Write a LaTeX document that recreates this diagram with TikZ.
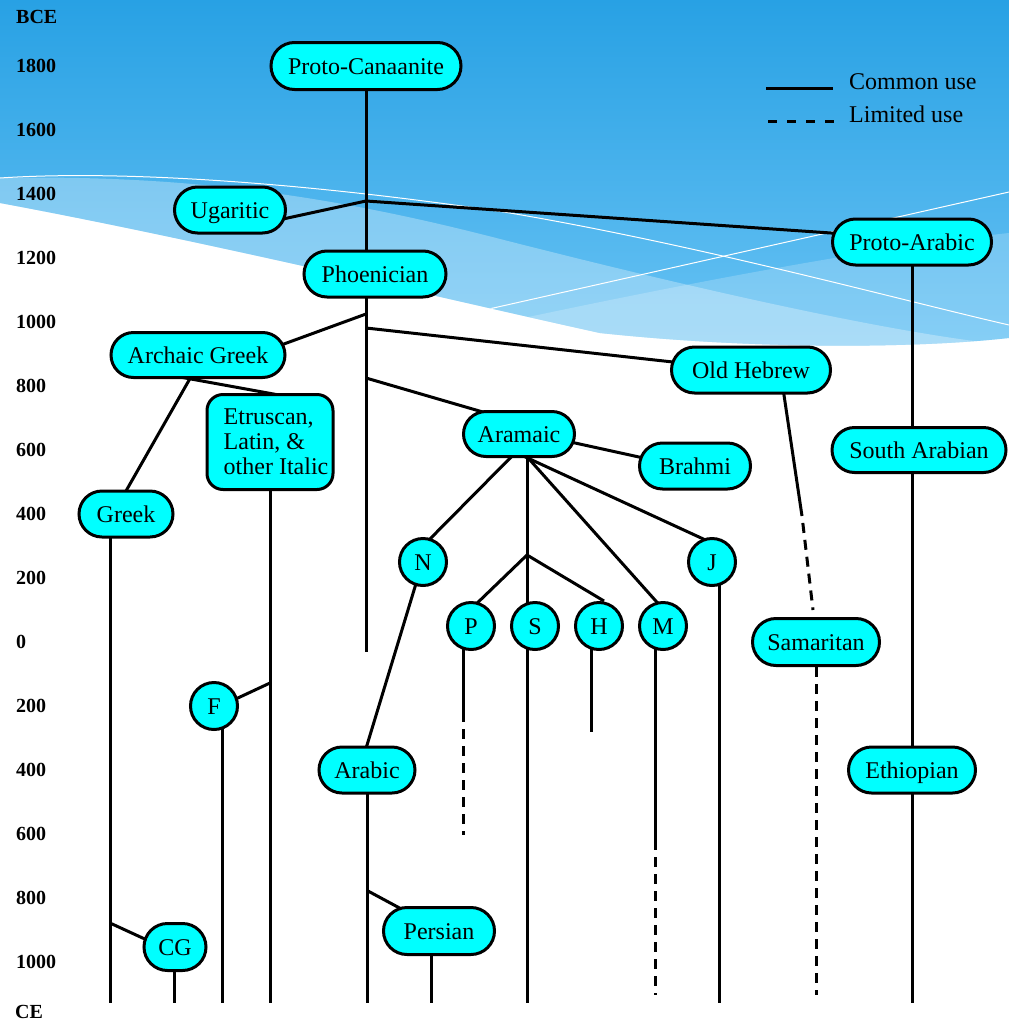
\documentclass[tikz,border=0pt]{standalone}
\usepackage{fontspec}
\setmainfont{Liberation Serif}
\usetikzlibrary{shapes.misc,calc}
\pgfdeclarelayer{bgimg}
\pgfdeclarelayer{bgline}
\pgfsetlayers{bgimg,bgline,main}
\definecolor{skytop}{RGB}{40,161,228}
\definecolor{skybot}{RGB}{105,195,244}
\definecolor{boxfill}{RGB}{0,255,255}
\tikzset{
  script/.style={rounded rectangle, draw=black, line width=3pt, fill=boxfill, inner sep=0pt, text height=17pt, text depth=0pt, font=\fontsize{24}{25}\selectfont},
  circ/.style={script, minimum width=47pt, minimum height=47pt},
  link/.style={line width=3pt, black},
  limited/.style={link, dash pattern=on 10pt off 7pt},
  yearlabel/.style={anchor=west, inner sep=0pt, font=\fontsize{20}{20}\selectfont\bfseries},
  legendtext/.style={anchor=west, inner sep=0pt, font=\fontsize{24}{25}\selectfont},
}
\begin{document}
\begin{tikzpicture}[x=1pt,y=-1pt]
\useasboundingbox (0,0) rectangle (1009,1023);

% ---------- background ----------
\begin{pgfonlayer}{bgimg}
\fill[white] (0,0) rectangle (1009,1023);
\begin{scope}
\clip (0,0) -- (1009,0) -- (1009,338) .. controls (920,348) and (760,350) .. (600,333) .. controls (450,300) and (200,240) .. (0,203) -- cycle;
\shade[top color=skytop, bottom color=skybot] (0,0) rectangle (1009,350);
\fill[white, opacity=0.3] (0,178) .. controls (200,174) and (350,200) .. (504,240) .. controls (700,290) and (900,335) .. (1009,345) -- (1009,400) -- (0,400) -- cycle;
\fill[white, opacity=0.2] (400,345) .. controls (600,300) and (850,250) .. (1009,233) -- (1009,400) -- (400,400) -- cycle;
\draw[white, line width=1pt] (0,178) .. controls (120,170) and (300,182) .. (504,212) .. controls (700,245) and (900,300) .. (1009,325);
\draw[white, line width=1pt] (440,320) -- (1009,192);
\end{scope}
\end{pgfonlayer}

% ---------- year labels ----------
\node[yearlabel] (bce) at (16,17) {BCE};
\node[yearlabel] (b1800) at (16,66) {1800};
\node[yearlabel] (b1600) at (16,130) {1600};
\node[yearlabel] (b1400) at (16,194) {1400};
\node[yearlabel] (b1200) at (16,258) {1200};
\node[yearlabel] (b1000) at (16,322) {1000};
\node[yearlabel] (b800) at (16,386) {800};
\node[yearlabel] (b600) at (16,450) {600};
\node[yearlabel] (b400) at (16,514) {400};
\node[yearlabel] (b200) at (16,578) {200};
\node[yearlabel] (zero) at (16,642) {0};
\node[yearlabel] (c200) at (16,706) {200};
\node[yearlabel] (c400) at (16,770) {400};
\node[yearlabel] (c600) at (16,834) {600};
\node[yearlabel] (c800) at (16,898) {800};
\node[yearlabel] (c1000) at (16,962) {1000};
\node[yearlabel] (ce) at (15,1012) {CE};

% ---------- legend ----------
\coordinate (lga) at (766,88);
\coordinate (lgb) at (833,88);
\coordinate (lgc) at (768,121);
\coordinate (lgd) at (841,121);
\draw[link] (lga) -- (lgb);
\draw[link, dash pattern=on 9pt off 10pt] (lgc) -- (lgd);
\node[legendtext] (lcommon) at (849,82) {Common use};
\node[legendtext] (llimited) at (849,114) {Limited use};

% ---------- nodes ----------
\node[script, minimum width=190pt, minimum height=47pt] (pc) at (366,66) {Proto-Canaanite};
\node[script, minimum width=111pt, minimum height=46pt] (ugar) at (230,210) {Ugaritic};
\node[script, minimum width=142pt, minimum height=46pt] (phoen) at (375,274) {Phoenician};
\node[script, minimum width=159pt, minimum height=46pt] (parab) at (912,242) {Proto-Arabic};
\node[script, minimum width=174pt, minimum height=45pt] (arch) at (198,355) {Archaic Greek};
\node[script, minimum width=159pt, minimum height=46pt] (ohb) at (751,370) {Old Hebrew};
\node[script, rectangle, rounded corners=16pt, text height={}, text depth={}, minimum width=126pt, minimum height=95pt, align=left] (etr) at (270,442) {\hspace*{12pt}Etruscan,\\\hspace*{12pt}Latin, \&\\\hspace*{12pt}other Italic};
\node[script, minimum width=111pt, minimum height=45pt] (aram) at (519,434) {Aramaic};
\node[script, minimum width=111pt, minimum height=46pt] (brahmi) at (695,466) {Brahmi};
\node[script, minimum width=174pt, minimum height=45pt] (sarab) at (919,450) {South Arabian};
\node[script, minimum width=94pt, minimum height=46pt] (greek) at (126,514) {Greek};
\node[circ] (N) at (423,562) {N};
\node[circ] (J) at (712,562) {J};
\node[circ] (P) at (471,626) {P};
\node[circ] (S) at (535,626) {S};
\node[circ] (H) at (599,626) {H};
\node[circ] (M) at (663,626) {M};
\node[script, minimum width=127pt, minimum height=47pt] (sam) at (816,642) {Samaritan};
\node[circ] (F) at (214,706) {F};
\node[script, minimum width=96pt, minimum height=46pt] (arabic) at (367,770) {Arabic};
\node[script, minimum width=127pt, minimum height=46pt] (eth) at (912,770) {Ethiopian};
\node[script, minimum width=62pt, minimum height=47pt] (cg) at (175,947) {CG};
\node[script, minimum width=111pt, minimum height=47pt] (pers) at (439,931) {Persian};

% ---------- connectors ----------
\begin{pgfonlayer}{bgline}
\coordinate (bottom) at (0,1003);
\coordinate (dashbottom) at (0,995);
\coordinate (trunkend) at (366,652);
\coordinate (jU) at (366,201);
\coordinate (jAG) at (366,314);
\coordinate (jOH) at (366,328);
\coordinate (jAr) at (366,378);
\draw[link] (pc.center) -- (trunkend);
\draw[link] ($(ugar.center)+(30,14)$) -- (jU) -- ($(parab.center)+(-52,-7)$);
\draw[link] (jAG) -- ($(arch.center)+(64,-3)$);
\draw[link] (jOH) -- ($(ohb.center)+(-51,-5)$);
\draw[link] (jAr) -- ($(aram.center)+(-19,-17)$);
\draw[link] ($(arch.center)+(-2,13)$) -- ($(greek.center)+(-4,-16)$);
\draw[link] ($(arch.center)+(-18,22)$) -- ($(etr.center)+(20,-45)$);
% verticals
\coordinate (gx) at (110,514);
\coordinate (ex) at (270,442);
\coordinate (fx) at (222,706);
\coordinate (cgx) at (174,947);
\coordinate (arx) at (367,770);
\coordinate (pex) at (431,931);
\coordinate (sx) at (527,434);
\coordinate (jx) at (719,562);
\coordinate (pax) at (912,242);
\draw[link] (gx) -- (gx |- bottom);
\draw[link] (ex) -- (ex |- bottom);
\draw[link] (fx) -- (fx |- bottom);
\draw[link] (cgx) -- (cgx |- bottom);
\draw[link] (arx) -- (arx |- bottom);
\draw[link] (pex) -- (pex |- bottom);
\draw[link] (sx) -- (sx |- bottom);
\draw[link] (jx) -- (jx |- bottom);
\draw[link] (pax) -- (pax |- bottom);
% H, P, M
\coordinate (hx) at (591,626);
\coordinate (hend) at (591,732);
\draw[link] (hx) -- (hend);
\coordinate (px) at (463,626);
\coordinate (psolid) at (463,722);
\coordinate (pdash) at (463,835);
\draw[link] (px) -- (psolid);
\draw[limited, dash phase=10pt] (psolid) -- (pdash);
\coordinate (mx) at (655,626);
\coordinate (msolid) at (655,850);
\draw[link] (mx) -- (msolid);
\draw[limited, dash phase=10pt] (msolid) -- (msolid |- dashbottom);
% Old Hebrew -> Samaritan
\coordinate (ohs) at (802,516);
\coordinate (ohsend) at (813,610);
\draw[link] ($(ohb.center)+(30,5)$) -- (ohs);
\draw[limited, dash phase=10pt] (ohs) -- (ohsend);
\draw[limited] (sam.south) -- (sam.south |- dashbottom);
% Aramaic fan
\coordinate (jSPH) at (527,555);
\draw[link] ($(aram.center)+(4,11)$) -- ($(N.center)+(0,-16)$);
\draw[link] ($(aram.center)+(2,16)$) -- ($(M.center)+(0,-17)$);
\draw[link] ($(aram.center)+(1,20.5)$) -- ($(J.center)+(0,-19)$);
\draw[link] ($(P.center)+(0,-17)$) -- (jSPH) -- ($(H.center)+(5,-25)$);
\draw[link] ($(aram.center)+(36,4.6)$) -- ($(brahmi.center)+(-35,-4.4)$);
% later branches
\draw[link] ($(N.center)+(-5,15)$) -- ($(arabic.center)+(-3,-15)$);
\coordinate (jAP) at (368,891);
\draw[link] (jAP) -- ($(pers.center)+(-19,-12)$);
\coordinate (jGC) at (110,923);
\draw[link] (jGC) -- ($(cg.center)+(-15,-1)$);
\coordinate (jEF) at (270,683);
\draw[link] (jEF) -- ($(F.center)+(11,-2)$);
\end{pgfonlayer}
\end{tikzpicture}
\end{document}
